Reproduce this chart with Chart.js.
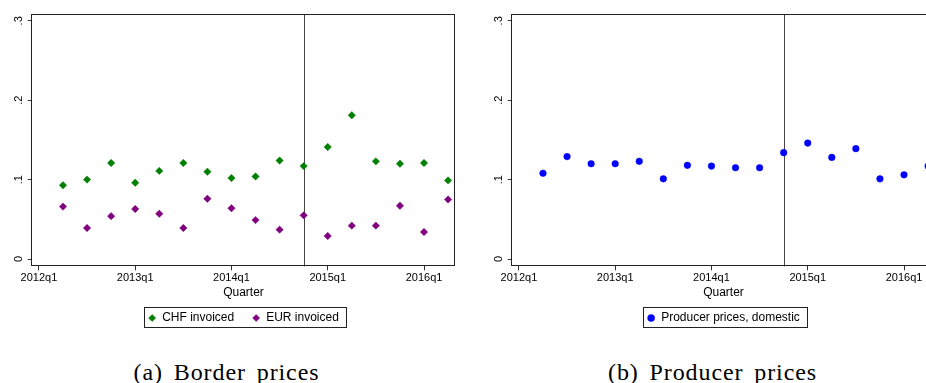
<!DOCTYPE html>
<html>
<head>
<meta charset="utf-8">
<script src="https://cdn.jsdelivr.net/npm/chart.js@4/dist/chart.umd.min.js"></script>
<style>
  body { margin: 0; width: 926px; height: 383px; overflow: hidden; background: #fff; position: relative; }
  canvas { position: absolute; top: 0; }
  #chartA { left: 0; }
  #chartB { left: 480px; }
  .caption {
    position: absolute; top: 361px; width: 453px; text-align: center;
    font-family: 'Liberation Serif', serif; font-size: 24px; line-height: 23px;
    letter-spacing: 0.9px; word-spacing: 4px; color: #000; white-space: nowrap;
  }
  #capA { left: 0; }
  #capB { left: 486px; }
</style>
</head>
<body>
<canvas id="chartA" width="470" height="340"></canvas>
<canvas id="chartB" width="470" height="340"></canvas>
<div class="caption" id="capA">(a) Border prices</div>
<div class="caption" id="capB">(b) Producer prices</div>
<script>
const quarters = ['2012q1', '2012q2', '2012q3', '2012q4', '2013q1', '2013q2', '2013q3', '2013q4',
                  '2014q1', '2014q2', '2014q3', '2014q4', '2015q1', '2015q2', '2015q3', '2015q4',
                  '2016q1', '2016q2'];
const tickQuarters = ['2012q1', '2013q1', '2014q1', '2015q1', '2016q1'];
const breakQuarter = '2014q4';
const yTicks = [0, 0.1, 0.2, 0.3];
const yTickLabels = ['0', '.1', '.2', '.3'];

// share of price changes per quarter
const chfInvoiced = [null, 0.093, 0.100, 0.121, 0.096, 0.111, 0.121, 0.110, 0.102, 0.104,
                     0.124, 0.117, 0.141, 0.181, 0.123, 0.120, 0.121, 0.099];
const eurInvoiced = [null, 0.066, 0.039, 0.054, 0.063, 0.057, 0.039, 0.076, 0.064, 0.049,
                     0.037, 0.055, 0.029, 0.042, 0.042, 0.067, 0.034, 0.075];
const producerDomestic = [null, 0.108, 0.129, 0.120, 0.120, 0.123, 0.101, 0.118, 0.117, 0.115,
                          0.115, 0.134, 0.146, 0.128, 0.139, 0.101, 0.106, 0.117];

const sansFont = 'Liberation Sans, Arial, sans-serif';

function toPoints(series) {
    return quarters.map((q, i) => ({ x: i, y: series[i] })).filter(p => p.y !== null);
}

const framePlugin = {
    id: 'frame',
    beforeDatasetsDraw(chart) {
        const { ctx, chartArea, scales } = chart;
        const x = Math.round(scales.x.getPixelForValue(quarters.indexOf(breakQuarter))) + 0.5;
        ctx.save();
        ctx.strokeStyle = '#444';
        ctx.lineWidth = 1;
        ctx.beginPath();
        ctx.moveTo(x, chartArea.top);
        ctx.lineTo(x, chartArea.bottom);
        ctx.stroke();
        ctx.restore();
    },
    afterDraw(chart) {
        const { ctx, chartArea, scales } = chart;
        ctx.save();
        ctx.strokeStyle = '#222';
        ctx.lineWidth = 1;
        const l = Math.round(chartArea.left) - 0.5, t = Math.round(chartArea.top) + 0.5;
        const r = Math.round(chartArea.right) - 0.5, b = Math.round(chartArea.bottom) - 0.5;
        ctx.strokeRect(l, t, r - l, b - t);

        // rotated y tick labels, stata style
        ctx.fillStyle = '#000';
        ctx.font = '11px ' + sansFont;
        ctx.textAlign = 'center';
        ctx.textBaseline = 'alphabetic';
        yTicks.forEach((v, i) => {
            ctx.save();
            ctx.translate(chartArea.left - 9.5, scales.y.getPixelForValue(v));
            ctx.rotate(-Math.PI / 2);
            ctx.fillText(yTickLabels[i], 0, 0);
            ctx.restore();
        });

        // box round the legend
        const boxes = chart.legend.legendHitBoxes;
        const left = Math.min(...boxes.map(h => h.left));
        const right = Math.max(...boxes.map(h => h.left + h.width));
        const top = boxes[0].top;
        ctx.strokeStyle = '#222';
        ctx.strokeRect(Math.round(left - 4) + 0.5, Math.round(top - 5) + 0.5,
                       Math.round(right - left + 11), 20);
        ctx.restore();
    }
};

function makeChart(id, datasets) {
    new Chart(document.getElementById(id), {
        type: 'scatter',
        data: { datasets },
        plugins: [framePlugin],
        options: {
            responsive: false,
            animation: false,
            layout: { padding: { left: 27.7, right: 14.7, top: 14, bottom: 6 } },
            plugins: {
                tooltip: { enabled: false },
                legend: {
                    position: 'bottom',
                    fullSize: false,
                    labels: {
                        usePointStyle: true,
                        boxWidth: 8,
                        boxHeight: 5,
                        padding: 18,
                        color: '#000',
                        font: { family: sansFont, size: 12 }
                    }
                }
            },
            scales: {
                x: {
                    type: 'linear',
                    min: -0.3,
                    max: 17.3,
                    afterBuildTicks: scale => {
                        scale.ticks = tickQuarters.map(q => ({ value: quarters.indexOf(q) }));
                    },
                    ticks: {
                        callback: v => quarters[v],
                        autoSkip: false,
                        maxRotation: 0,
                        padding: 1,
                        color: '#000',
                        font: { family: sansFont, size: 11 }
                    },
                    grid: { drawOnChartArea: false, drawTicks: true, tickLength: 4, color: '#333' },
                    border: { display: false },
                    title: {
                        display: true,
                        text: 'Quarter',
                        color: '#000',
                        font: { family: sansFont, size: 12 },
                        padding: { top: 0, bottom: -6 }
                    }
                },
                y: {
                    type: 'linear',
                    min: -0.0093,
                    max: 0.3086,
                    afterBuildTicks: scale => {
                        scale.ticks = yTicks.map(v => ({ value: v }));
                    },
                    ticks: { display: false },
                    grid: { drawOnChartArea: false, drawTicks: true, tickLength: 4, color: '#333' },
                    border: { display: false }
                }
            }
        }
    });
}

makeChart('chartA', [
    {
        label: 'CHF invoiced',
        data: toPoints(chfInvoiced),
        pointStyle: 'rectRot',
        pointRadius: 3.7,
        backgroundColor: '#008000',
        borderColor: '#008000',
        borderWidth: 0.5
    },
    {
        label: 'EUR invoiced',
        data: toPoints(eurInvoiced),
        pointStyle: 'rectRot',
        pointRadius: 3.7,
        backgroundColor: '#800080',
        borderColor: '#800080',
        borderWidth: 0.5
    }
]);

makeChart('chartB', [
    {
        label: 'Producer prices, domestic',
        data: toPoints(producerDomestic),
        pointStyle: 'circle',
        pointRadius: 3.3,
        backgroundColor: '#0000ff',
        borderColor: '#0000ff',
        borderWidth: 0.5
    }
]);
</script>
</body>
</html>
